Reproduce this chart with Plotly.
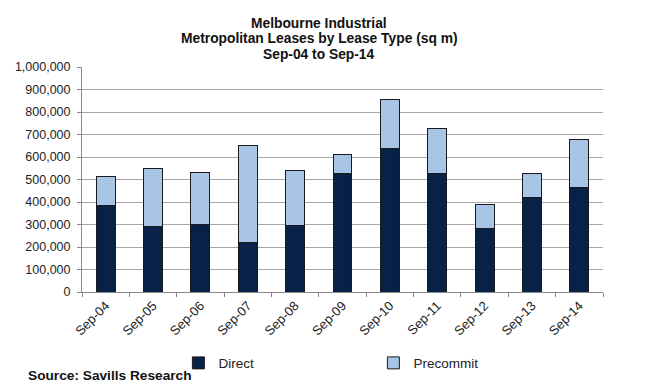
import plotly.graph_objects as go

categories = ["Sep-04", "Sep-05", "Sep-06", "Sep-07", "Sep-08", "Sep-09",
              "Sep-10", "Sep-11", "Sep-12", "Sep-13", "Sep-14"]
direct = [385000, 290000, 299000, 222000, 295000, 528000,
          636000, 528000, 282000, 422000, 466000]
totals = [513000, 550000, 532000, 649000, 541000, 612000,
          856000, 727000, 388000, 528000, 680000]
precommit = [t - d for t, d in zip(totals, direct)]
y_ticks = list(range(0, 1000001, 100000))
title_lines = ["Melbourne Industrial",
               "Metropolitan Leases by Lease Type (sq m)",
               "Sep-04 to Sep-14"]

font = "Liberation Sans, Arial, sans-serif"

fig = go.Figure()
fig.add_trace(go.Bar(x=categories, y=direct, name="Direct",
                     marker=dict(color="#082247", line=dict(color="#1a1a1a", width=1))))
fig.add_trace(go.Bar(x=categories, y=precommit, name="Precommit",
                     marker=dict(color="#a8c4e6", line=dict(color="#1a1a1a", width=1))))

# page body has an 8px margin, so the figure is sized/margined to compensate
fig.update_layout(
    barmode="stack",
    bargap=0.6,
    width=651, height=381,
    margin=dict(l=74, r=56, t=59, b=97, autoexpand=False),
    paper_bgcolor="white", plot_bgcolor="white",
    font=dict(family=font, size=13, color="#222222"),
    showlegend=True,
    legend=dict(orientation="h", x=0.185, xanchor="left", y=-0.316, yanchor="middle",
                entrywidth=150, entrywidthmode="pixels",
                font=dict(family=font, size=13.5, color="#222222"),
                traceorder="normal", bgcolor="rgba(0,0,0,0)"),
)
fig.update_xaxes(
    showline=True, linecolor="#888888", linewidth=1,
    ticks="outside", tickson="boundaries", ticklen=4, tickcolor="#888888",
    tickangle=-45, tickfont=dict(size=13, family=font, color="#222222"),
    showgrid=False,
)
fig.update_yaxes(
    range=[0, 1000000], tickvals=y_ticks, tickformat=",d",
    showgrid=True, gridcolor="#a6a6a6", gridwidth=1,
    showline=True, linecolor="#888888", linewidth=1,
    ticks="outside", ticklen=4, tickcolor="#888888", ticklabelstandoff=4,
    tickfont=dict(size=12.5, family=font, color="#222222"),
    zeroline=False,
)
for line, yp in zip(title_lines, [1.195, 1.126, 1.056]):
    fig.add_annotation(text="<b>" + line + "</b>", xref="paper", yref="paper",
                       x=0.455, y=yp, xanchor="center", yanchor="middle", showarrow=False,
                       font=dict(family=font, size=13.8, color="#111111"))
fig.add_annotation(text="<b>Source: Savills Research</b>", xref="paper", yref="paper",
                   x=-0.1075, y=-0.373, xanchor="left", yanchor="middle", showarrow=False,
                   font=dict(family=font, size=13.7, color="#111111"))
fig.write_html("out.html")
